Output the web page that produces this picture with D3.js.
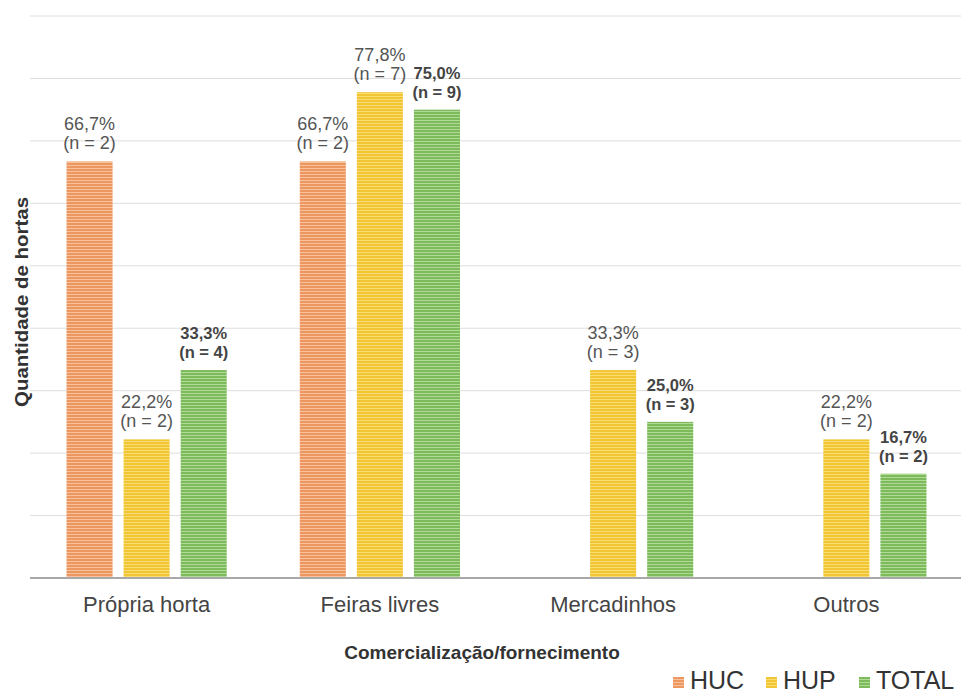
<!DOCTYPE html>
<html>
<head>
<meta charset="utf-8">
<script src="https://cdn.jsdelivr.net/npm/d3@7"></script>
<style>
  body { margin: 0; background: #fff; }
  svg { font-family: "Liberation Sans", Arial, sans-serif; }
</style>
</head>
<body>
<div id="chart"></div>
<script>
var categories = ['Própria horta', 'Feiras livres', 'Mercadinhos', 'Outros'];
var series = ['HUC', 'HUP', 'TOTAL'];
// percent values per series (null = no bar)
var hucPct   = [66.7, 66.7, null, null];
var hupPct   = [22.2, 77.8, 33.3, 22.2];
var totalPct = [33.3, 75.0, 25.0, 16.7];
var hucN   = [2, 2, null, null];
var hupN   = [2, 7, 3, 2];
var totalN = [4, 9, 3, 2];
var yTicks = [0, 10, 20, 30, 40, 50, 60, 70, 80, 90];

var fullWidth = 961, fullHeight = 697;
var margin = {top: 16, right: -2, bottom: 119, left: 30};
var width = fullWidth - margin.left - margin.right;
var height = fullHeight - margin.top - margin.bottom;

var svg = d3.select('#chart').append('svg')
    .attr('width', fullWidth).attr('height', fullHeight);

var colors = {
  HUC:   {dark: '#ec9660', light: '#f8c19b'},
  HUP:   {dark: '#f2c535', light: '#f9dd72'},
  TOTAL: {dark: '#7cba5c', light: '#b0da96'}
};

// striped fills
var defs = svg.append('defs');
series.forEach(function(s){
  var p = defs.append('pattern')
      .attr('id', 'stripe-' + s)
      .attr('patternUnits', 'userSpaceOnUse')
      .attr('width', 6).attr('height', 3);
  p.append('rect').attr('width', 6).attr('height', 3).attr('fill', colors[s].dark);
  p.append('rect').attr('y', 2).attr('width', 6).attr('height', 1).attr('fill', colors[s].light);
});

var g = svg.append('g').attr('transform', 'translate(' + margin.left + ',' + margin.top + ')');

var x0 = d3.scaleBand().domain(categories).range([0, width]);
var x1 = d3.scaleBand().domain(series).range([0, x0.bandwidth()])
    .paddingInner(0.193).paddingOuter(0.64);
var y = d3.scaleLinear().domain([0, 90]).range([height, 0]);

// gridlines
g.selectAll('.grid').data(yTicks.slice(1)).enter().append('line')
  .attr('x1', 0).attr('x2', width + 4)
  .attr('y1', function(d){ return y(d); }).attr('y2', function(d){ return y(d); })
  .attr('stroke', '#dedede').attr('stroke-width', 1);

var rows = [];
categories.forEach(function(c, i){
  var vals = {HUC: [hucPct[i], hucN[i]], HUP: [hupPct[i], hupN[i]], TOTAL: [totalPct[i], totalN[i]]};
  series.forEach(function(s){
    if(vals[s][0] != null){
      rows.push({cat: c, s: s, v: vals[s][0], n: vals[s][1]});
    }
  });
});

function barX(d){ return x0(d.cat) + x1(d.s); }

g.selectAll('rect.bar').data(rows).enter().append('rect')
  .attr('class', 'bar')
  .attr('x', barX)
  .attr('y', function(d){ return y(d.v); })
  .attr('width', x1.bandwidth())
  .attr('height', function(d){ return height - y(d.v); })
  .attr('fill', function(d){ return 'url(#stripe-' + d.s + ')'; });

// baseline
g.append('line').attr('x1', 0).attr('x2', width + 4)
  .attr('y1', height).attr('y2', height)
  .attr('stroke', '#a8a8a8').attr('stroke-width', 2);

// value labels
var lab = g.selectAll('g.lab').data(rows).enter().append('g')
  .attr('transform', function(d){ return 'translate(' + (barX(d) + x1.bandwidth() / 2) + ',' + y(d.v) + ')'; })
  .attr('text-anchor', 'middle')
  .attr('fill', function(d){ return d.s === 'TOTAL' ? '#444' : '#555'; })
  .attr('font-weight', function(d){ return d.s === 'TOTAL' ? 'bold' : 'normal'; })
  .attr('font-size', function(d){ return d.s === 'TOTAL' ? '16.5px' : '18px'; });
lab.append('text').attr('y', -31).text(function(d){ return d.v.toFixed(1).replace('.', ',') + '%'; });
lab.append('text').attr('y', -12).text(function(d){ return '(n = ' + d.n + ')'; });

// x axis labels
var xAxis = d3.axisBottom(x0).tickSize(0).tickPadding(18);
var ax = g.append('g').attr('transform', 'translate(0,' + height + ')').call(xAxis);
ax.select('.domain').remove();
ax.selectAll('text').attr('font-size', '22px').attr('fill', '#444')
  .attr('font-family', '"Liberation Sans", Arial, sans-serif');

// axis titles
svg.append('text').attr('x', 482).attr('y', 659).attr('text-anchor', 'middle')
  .attr('font-size', '19px').attr('font-weight', 'bold').attr('fill', '#333')
  .text('Comercialização/fornecimento');
svg.append('text').attr('transform', 'translate(28,302) rotate(-90)').attr('text-anchor', 'middle')
  .attr('font-size', '18px').attr('font-weight', 'bold').attr('fill', '#333')
  .attr('textLength', 210).attr('lengthAdjust', 'spacingAndGlyphs')
  .text('Quantidade de hortas');

// legend
var legendX = [673, 766, 859];
var leg = svg.selectAll('g.leg').data(series).enter().append('g')
  .attr('transform', function(d, i){ return 'translate(' + legendX[i] + ',689)'; });
leg.append('rect').attr('y', -12).attr('width', 11).attr('height', 11)
  .attr('fill', function(d){ return 'url(#stripe-' + d + ')'; });
leg.append('text').attr('x', 17).attr('font-size', '25px').attr('fill', '#333')
  .text(function(d){ return d; });
</script>
</body>
</html>
